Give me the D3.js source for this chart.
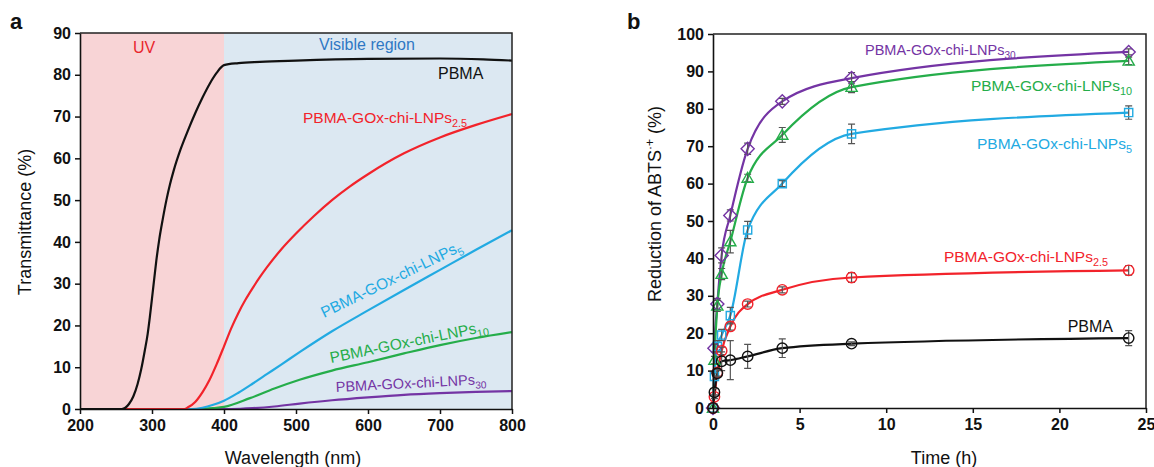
<!DOCTYPE html>
<html>
<head>
<meta charset="utf-8">
<script src="https://cdn.jsdelivr.net/npm/d3@7"></script>
<style>
  body { margin: 0; background: #fff; }
  svg { display: block; font-family: "Liberation Sans", Arial, sans-serif; }
</style>
</head>
<body>
<svg id="chart" width="1154" height="467"></svg>
<script>
// ---------- Panel a data: transmittance spectra [wavelength nm, %T] ----------
const wlTicks = [200, 300, 400, 500, 600, 700, 800];
const tTicks = [0, 10, 20, 30, 40, 50, 60, 70, 80, 90];
const specPBMA = [[200,0],[258,0],[263,0.3],[268,1.2],[274,3],[280,6],[285,9.5],[290,14],[294,18],[297,22],[300,26.5],[303,31],[306,35.5],[310,40.5],[315,45.5],[320,50],[325,53.8],[330,57],[340,62.3],[350,66.7],[360,70.8],[370,74.5],[380,77.8],[390,80.5],[400,82.3],[420,82.8],[450,83.1],[500,83.4],[600,83.8],[700,83.9],[760,83.7],[800,83.4]];
const spec25 = [[200,0],[345,0],[350,0.4],[360,1.7],[370,4],[380,7],[390,10.8],[400,15],[410,19.3],[420,23],[430,26.2],[440,29],[450,31.6],[460,34],[480,38.3],[500,42],[525,46.2],[550,50],[575,53.3],[600,56.2],[650,61.2],[700,65],[750,68],[800,70.6]];
const spec5 = [[200,0],[355,0],[370,0.3],[385,1],[400,2],[420,3.9],[440,6.1],[460,8.4],[480,10.7],[505,13.6],[550,18.6],[600,23.6],[650,28.5],[700,33.3],[750,38.1],[800,42.8]];
const spec10 = [[200,0],[365,0],[385,0.2],[400,0.5],[436,2.6],[470,4.9],[505,7],[550,9.2],[600,11.2],[650,13.3],[700,15.3],[750,17],[800,18.4]];
const spec30 = [[200,0],[410,0],[440,0.2],[470,0.6],[505,1.3],[550,2.1],[600,2.8],[650,3.4],[700,3.8],[750,4.1],[800,4.3]];

// ---------- Panel b data: ABTS reduction vs time ----------
const times = [0, 0.083, 0.25, 0.5, 1, 2, 4, 8, 24];
const timeTicks = [0, 5, 10, 15, 20, 25];
const redTicks = [0, 10, 20, 30, 40, 50, 60, 70, 80, 90, 100];
const redPBMA = [0, 4.2, 9.3, 12.5, 12.8, 13.8, 16, 17.2, 18.7];
const red25   = [0, 3, 9.5, 15.3, 21.8, 27.8, 31.6, 34.9, 36.8];
const red5    = [0, 8.4, 16.5, 19.5, 24.7, 47.6, 60, 73.3, 79];
const red10   = [0, 12.8, 27.3, 35.8, 44.5, 61.5, 73, 85.8, 92.8];
const red30   = [0, 16, 27.8, 40.8, 51.5, 69.3, 82, 88.2, 95.2];
const errPBMA = [0, 1, 1, 2.5, 5.2, 3.2, 2.5, 0.5, 2];
const err25   = [0, 0.5, 1, 1, 1, 0.8, 0.8, 1.3, 1.3];
const err5    = [0, 1, 1.5, 1.5, 2.2, 2.3, 0.8, 2.6, 1.8];
const err10   = [0, 1, 1.5, 1.5, 3, 1, 2, 1.5, 1];
const err30   = [0, 1, 1.5, 2, 1.5, 1.5, 0.8, 1.5, 0.8];

const C = { black: "#111111", red: "#f2232b", blue: "#22aae2", green: "#25ad4a", purple: "#7434a4" };

const svg = d3.select("#chart");

function label(g, x, y, main, sub, color, size, anchor, angle, weight) {
  const t = g.append("text")
    .attr("x", x).attr("y", y)
    .attr("fill", color)
    .attr("font-size", size)
    .attr("font-weight", weight || "normal")
    .attr("text-anchor", anchor || "start");
  if (angle) t.attr("transform", `rotate(${angle},${x},${y})`);
  t.append("tspan").text(main);
  if (sub) t.append("tspan").attr("font-size", size * 0.7).attr("dy", size * 0.28).text(sub);
  return t;
}

function styleAxis(g) {
  g.selectAll(".domain").attr("stroke", "#111").attr("stroke-width", 1.6);
  g.selectAll(".tick line").attr("stroke", "#111").attr("stroke-width", 1.5);
  g.selectAll(".tick text").attr("fill", "#111").attr("font-size", 16).attr("font-weight", "bold")
    .attr("font-family", "'Liberation Sans', Arial, sans-serif");
}

// ================= Panel a =================
{
  const x = d3.scaleLinear().domain([200, 800]).range([80, 512]);
  const y = d3.scaleLinear().domain([0, 90]).range([409, 33]);
  const g = svg.append("g");

  g.append("rect").attr("x", x(200)).attr("y", y(90)).attr("width", x(400) - x(200)).attr("height", y(0) - y(90)).attr("fill", "#f8d4d6");
  g.append("rect").attr("x", x(400)).attr("y", y(90)).attr("width", x(800) - x(400)).attr("height", y(0) - y(90)).attr("fill", "#dce8f2");

  const line = d3.line().x(d => x(d[0])).y(d => y(d[1])).curve(d3.curveMonotoneX);
  [[spec30, C.purple], [spec10, C.green], [spec5, C.blue], [spec25, C.red], [specPBMA, C.black]].forEach(([d, c]) => {
    g.append("path").datum(d).attr("d", line).attr("fill", "none").attr("stroke", c).attr("stroke-width", 2.2);
  });

  // frame
  g.append("path").attr("d", `M${x(200)},${y(90)}H${x(800)}V${y(0)}`).attr("fill", "none").attr("stroke", "#222").attr("stroke-width", 1.5);

  const xa = g.append("g").attr("transform", `translate(0,${y(0)})`)
    .call(d3.axisBottom(x).tickValues(wlTicks).tickSize(5).tickSizeOuter(0).tickPadding(6));
  styleAxis(xa);
  const ya = g.append("g").attr("transform", `translate(${x(200)},0)`)
    .call(d3.axisLeft(y).tickValues(tTicks).tickSize(5).tickSizeOuter(0).tickPadding(4));
  styleAxis(ya);

  g.append("text").attr("x", 293).attr("y", 464).attr("text-anchor", "middle").attr("font-size", 18).attr("fill", "#111").text("Wavelength (nm)");
  g.append("text").attr("transform", "translate(31,222) rotate(-90)").attr("text-anchor", "middle").attr("font-size", 18).attr("fill", "#111").text("Transmittance (%)");

  g.append("text").attr("x", 10).attr("y", 29).attr("font-size", 22).attr("font-weight", "bold").attr("fill", "#111").text("a");
  g.append("text").attr("x", 144).attr("y", 53).attr("text-anchor", "middle").attr("font-size", 16).attr("fill", "#e8262d").text("UV");
  g.append("text").attr("x", 367).attr("y", 50).attr("text-anchor", "middle").attr("font-size", 16).attr("fill", "#2f78c4").text("Visible region");

  label(g, 438, 79, "PBMA", null, C.black, 16, "start");
  label(g, 303, 123, "PBMA-GOx-chi-LNPs", "2.5", C.red, 15.5, "start");
  label(g, 324, 318, "PBMA-GOx-chi-LNPs", "5", C.blue, 15.5, "start", -26);
  label(g, 331, 363, "PBMA-GOx-chi-LNPs", "10", C.green, 15.5, "start", -11.5);
  label(g, 336, 392, "PBMA-GOx-chi-LNPs", "30", C.purple, 14.5, "start", -3);
}

// ================= Panel b =================
{
  const x = d3.scaleLinear().domain([0, 25]).range([713, 1146]);
  const y = d3.scaleLinear().domain([0, 100]).range([408, 34]);
  const g = svg.append("g");

  g.append("path").attr("d", `M${x(0)},${y(100)}H${x(25)}V${y(0)}`).attr("fill", "none").attr("stroke", "#222").attr("stroke-width", 1.5);

  const series = [
    { v: red30, e: err30, c: C.purple, m: "diamond" },
    { v: red10, e: err10, c: C.green, m: "triangle" },
    { v: red5, e: err5, c: C.blue, m: "square" },
    { v: red25, e: err25, c: C.red, m: "circle" },
    { v: redPBMA, e: errPBMA, c: C.black, m: "circle" }
  ];
  const line = d3.line().x(d => x(d[0])).y(d => y(d[1])).curve(d3.curveMonotoneX);
  const sym = {
    diamond: d3.symbol().type(d3.symbolDiamond2 || d3.symbolDiamond).size(110),
    triangle: d3.symbol().type(d3.symbolTriangle2 || d3.symbolTriangle).size(90),
    square: d3.symbol().type(d3.symbolSquare2 || d3.symbolSquare).size(85),
    circle: d3.symbol().type(d3.symbolCircle).size(85)
  };

  series.forEach(s => {
    const pts = times.map((t, i) => [t, s.v[i], s.e[i]]);
    g.append("path").datum(pts).attr("d", line).attr("fill", "none").attr("stroke", s.c).attr("stroke-width", 2.2);
  });
  series.forEach(s => {
    const pts = times.map((t, i) => [t, s.v[i], s.e[i]]);
    const eg = g.append("g").attr("stroke", "#555").attr("stroke-width", 1.2);
    pts.filter(p => p[2] > 0.3).forEach(p => {
      const cx = x(p[0]), y1 = y(p[1] + p[2]), y2 = y(p[1] - p[2]);
      eg.append("path").attr("d", `M${cx},${y1}V${y2}M${cx - 3.5},${y1}H${cx + 3.5}M${cx - 3.5},${y2}H${cx + 3.5}`);
    });
    g.selectAll(null).data(pts).enter().append("path")
      .attr("d", sym[s.m])
      .attr("transform", d => `translate(${x(d[0])},${y(d[1]) + (s.m === "triangle" ? 1 : 0)})`)
      .attr("fill", "none").attr("stroke", s.c).attr("stroke-width", 1.4);
  });

  const xa = g.append("g").attr("transform", `translate(0,${y(0)})`)
    .call(d3.axisBottom(x).tickValues(timeTicks).tickSize(5).tickSizeOuter(0).tickPadding(6));
  styleAxis(xa);
  const ya = g.append("g").attr("transform", `translate(${x(0)},0)`)
    .call(d3.axisLeft(y).tickValues(redTicks).tickSize(5).tickSizeOuter(0).tickPadding(4));
  styleAxis(ya);

  g.append("text").attr("x", 944).attr("y", 464).attr("text-anchor", "middle").attr("font-size", 18).attr("fill", "#111").text("Time (h)");
  const yl = g.append("text").attr("transform", "translate(661,204) rotate(-90)").attr("text-anchor", "middle").attr("font-size", 18).attr("fill", "#111");
  yl.append("tspan").text("Reduction of ABTS");
  yl.append("tspan").attr("font-size", 12).attr("dy", -7).text("·+");
  yl.append("tspan").attr("dy", 7).text(" (%)");

  g.append("text").attr("x", 627).attr("y", 29).attr("font-size", 22).attr("font-weight", "bold").attr("fill", "#111").text("b");

  label(g, 865, 55, "PBMA-GOx-chi-LNPs", "30", C.purple, 14.5, "start");
  label(g, 1132, 91, "PBMA-GOx-chi-LNPs", "10", C.green, 15.5, "end");
  label(g, 1132, 149, "PBMA-GOx-chi-LNPs", "5", C.blue, 15.5, "end");
  label(g, 1108, 262, "PBMA-GOx-chi-LNPs", "2.5", C.red, 15.5, "end");
  label(g, 1113, 332, "PBMA", null, C.black, 16, "end");
}
</script>
</body>
</html>
